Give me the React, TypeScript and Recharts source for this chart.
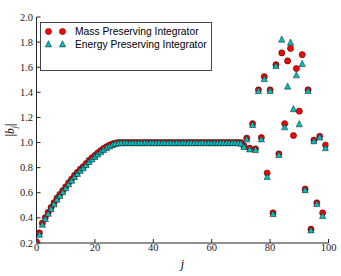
import React from 'react';
import { ScatterChart, Scatter, XAxis, YAxis, Legend, Label } from 'recharts';

const jValues = [
  0, 1, 2, 3, 4, 5, 6, 7, 8, 9,
  10, 11, 12, 13, 14, 15, 16, 17, 18, 19,
  20, 21, 22, 23, 24, 25, 26, 27, 28, 29,
  30, 31, 32, 33, 34, 35, 36, 37, 38, 39,
  40, 41, 42, 43, 44, 45, 46, 47, 48, 49,
  50, 51, 52, 53, 54, 55, 56, 57, 58, 59,
  60, 61, 62, 63, 64, 65, 66, 67, 68, 69,
  70, 71, 72, 73, 74, 75, 76, 77, 78, 79,
  80, 81, 82, 83, 84, 85, 86, 87, 88, 89,
  90, 91, 92, 93, 94, 95, 96, 97, 98, 99,
];

const massValues = [
  0.21, 0.28, 0.358, 0.403, 0.445, 0.483, 0.521, 0.558, 0.588, 0.618,
  0.648, 0.68, 0.708, 0.738, 0.763, 0.788, 0.808, 0.833, 0.858, 0.878,
  0.898, 0.918, 0.936, 0.953, 0.967, 0.979, 0.989, 0.996, 1.0, 1.0,
  1.0, 1.0, 1.0, 1.0, 1.0, 1.0, 1.0, 1.0, 1.0, 1.0,
  1.0, 1.0, 1.0, 1.0, 1.0, 1.0, 1.0, 1.0, 1.0, 1.0,
  1.0, 1.0, 1.0, 1.0, 1.0, 1.0, 1.0, 1.0, 1.0, 1.0,
  1.0, 1.0, 1.0, 1.0, 1.0, 1.0, 1.0, 1.0, 1.0, 1.0,
  1.0, 0.975, 1.035, 0.955, 1.15, 0.95, 1.42, 1.04, 1.525, 0.757,
  1.42, 0.44, 1.62, 0.91, 1.714, 1.15, 1.65, 1.75, 1.056, 1.59,
  1.25, 1.7, 0.63, 1.42, 0.31, 1.02, 0.52, 1.05, 0.44, 0.98,
];

const energyValues = [
  0.2, 0.27, 0.35, 0.395, 0.437, 0.475, 0.513, 0.55, 0.58, 0.61,
  0.64, 0.672, 0.7, 0.73, 0.755, 0.78, 0.8, 0.825, 0.85, 0.87,
  0.89, 0.91, 0.928, 0.945, 0.96, 0.973, 0.984, 0.993, 0.998, 1.0,
  1.0, 1.0, 1.0, 1.0, 1.0, 1.0, 1.0, 1.0, 1.0, 1.0,
  1.0, 1.0, 1.0, 1.0, 1.0, 1.0, 1.0, 1.0, 1.0, 1.0,
  1.0, 1.0, 1.0, 1.0, 1.0, 1.0, 1.0, 1.0, 1.0, 1.0,
  1.0, 1.0, 1.0, 1.0, 1.0, 1.0, 1.0, 1.0, 1.0, 1.0,
  0.995, 0.97, 1.03, 0.95, 1.145, 0.945, 1.415, 1.03, 1.51, 0.73,
  1.415, 0.435, 1.615, 0.905, 1.824, 1.126, 1.45, 1.8, 1.27, 1.54,
  1.15, 1.63, 0.625, 1.415, 0.305, 1.015, 0.515, 1.045, 0.42, 0.96,
];

const xTicks = [0, 20, 40, 60, 80, 100];
const yTicks = [0.2, 0.4, 0.6, 0.8, 1.0, 1.2, 1.4, 1.6, 1.8, 2.0];

const seriesNames = ['Mass Preserving Integrator', 'Energy Preserving Integrator'];
const titleText = { variable: 't', rest: ' = 3' };

const RED = '#ff0000';
const CYAN = '#00bfbf';
const EDGE = '#111';
const SERIF = "'Liberation Serif', serif";
const SANS = "'Liberation Sans', Arial, sans-serif";

const massData = jValues.map((j, i) => ({ j, v: massValues[i] }));
const energyData = jValues.map((j, i) => ({ j, v: energyValues[i] }));

const CircleShape = (props: any) => {
  const { cx, cy } = props;
  if (cx == null || cy == null) return <g />;
  return <circle cx={cx} cy={cy} r={3.1} fill={RED} stroke={EDGE} strokeWidth={0.5} />;
};

const TriShape = (props: any) => {
  const { cx, cy } = props;
  if (cx == null || cy == null) return <g />;
  const s = 3.1;
  const d = `M${cx},${cy - s} L${cx + s},${cy + s} L${cx - s},${cy + s} Z`;
  return <path d={d} fill={CYAN} stroke={EDGE} strokeWidth={0.5} />;
};

const renderLegend = () => {
  return (
    <svg width={173} height={50} style={{ display: 'block' }}>
      <rect x={0.5} y={0.5} width={171} height={48} fill="#fff" stroke="#444" strokeWidth={1} />
      {seriesNames.map((name: string, i: number) => {
        const cy = 9.5 + i * 12.3;
        return (
          <g key={i}>
            {[8.5, 22.5].map((cx, k) =>
              i === 0 ? (
                <CircleShape key={k} cx={cx} cy={cy} />
              ) : (
                <TriShape key={k} cx={cx} cy={cy} />
              )
            )}
            <text x={35} y={cy + 3.7} style={{ fontFamily: SANS, fontSize: 10.3 }} fill="#000">
              {name}
            </text>
          </g>
        );
      })}
    </svg>
  );
};

const tickTextStyle = { fontFamily: SERIF, fontSize: 10.5 };

const XTick = (props: any) => {
  const { x, y, payload } = props;
  return (
    <text x={x} y={y + 8} textAnchor="middle" style={tickTextStyle} fill="#222">
      {String(payload.value)}
    </text>
  );
};

const YTick = (props: any) => {
  const { x, y, payload } = props;
  return (
    <text x={x} y={y + 3.6} textAnchor="end" style={tickTextStyle} fill="#222">
      {Number(payload.value).toFixed(1)}
    </text>
  );
};

const renderTitle = (props: any) => {
  const vb = props.viewBox || {};
  const cx = vb.x + vb.width / 2;
  return (
    <text x={cx} y={vb.y - 3} textAnchor="middle" style={{ fontFamily: SERIF, fontSize: 12.5 }} fill="#000">
      <tspan style={{ fontStyle: 'italic' }}>{titleText.variable}</tspan>
      <tspan dx={2}>{titleText.rest}</tspan>
    </text>
  );
};

const renderYLabel = (props: any) => {
  const vb = props.viewBox || {};
  const x = 14;
  const y = vb.y + vb.height / 2;
  return (
    <text
      x={x}
      y={y}
      transform={`rotate(-90, ${x}, ${y})`}
      textAnchor="middle"
      style={{ fontFamily: SERIF, fontSize: 11.5 }}
      fill="#000"
    >
      <tspan>|</tspan>
      <tspan style={{ fontStyle: 'italic' }}>b</tspan>
      <tspan style={{ fontStyle: 'italic', fontSize: 8 }} dy={2.5}>j</tspan>
      <tspan dy={-2.5}>|</tspan>
    </text>
  );
};

const renderXLabel = (props: any) => {
  const vb = props.viewBox || {};
  const cx = vb.x + vb.width / 2;
  return (
    <text x={cx} y={268} textAnchor="middle" style={{ fontFamily: SERIF, fontStyle: 'italic', fontSize: 12 }} fill="#000">
      j
    </text>
  );
};

const axisLineStyle = { stroke: '#222', strokeWidth: 1 };

export default function App() {
  return (
    <div style={{ position: 'absolute', left: 0, top: 0, background: '#fff' }}>
      <ScatterChart width={341} height={276} margin={{ top: 17, right: 12.5, bottom: 0, left: 0.5 }}>
        <XAxis
          xAxisId="b"
          type="number"
          dataKey="j"
          domain={[0, 100]}
          ticks={xTicks}
          allowDataOverflow
          height={33}
          tickSize={-4}
          tickMargin={4}
          tick={<XTick />}
          axisLine={axisLineStyle}
          tickLine={axisLineStyle}
        >
          <Label content={renderXLabel} />
        </XAxis>
        <XAxis
          xAxisId="t"
          orientation="top"
          type="number"
          dataKey="j"
          domain={[0, 100]}
          ticks={xTicks}
          allowDataOverflow
          height={0}
          tickSize={-4}
          tick={false}
          axisLine={axisLineStyle}
          tickLine={axisLineStyle}
        >
          <Label content={renderTitle} />
        </XAxis>
        <YAxis
          yAxisId="l"
          type="number"
          dataKey="v"
          domain={[0.2, 2.0]}
          ticks={yTicks}
          allowDataOverflow
          width={36}
          tickSize={-4}
          tickMargin={7.5}
          tick={<YTick />}
          axisLine={axisLineStyle}
          tickLine={axisLineStyle}
        >
          <Label content={renderYLabel} />
        </YAxis>
        <YAxis
          yAxisId="r"
          orientation="right"
          type="number"
          dataKey="v"
          domain={[0.2, 2.0]}
          ticks={yTicks}
          allowDataOverflow
          width={0}
          tickSize={-4}
          tick={false}
          axisLine={axisLineStyle}
          tickLine={axisLineStyle}
        />
        <Legend
          layout="vertical"
          align="center"
          verticalAlign="middle"
          content={renderLegend}
          wrapperStyle={{ left: 40, top: 21.5, width: 173, height: 50 }}
        />
        <Scatter
          name={seriesNames[0]}
          data={massData}
          xAxisId="b"
          yAxisId="l"
          fill={RED}
          shape={CircleShape}
          isAnimationActive={false}
        />
        <Scatter
          name={seriesNames[1]}
          data={energyData}
          xAxisId="b"
          yAxisId="l"
          fill={CYAN}
          shape={TriShape}
          isAnimationActive={false}
        />
      </ScatterChart>
    </div>
  );
}
